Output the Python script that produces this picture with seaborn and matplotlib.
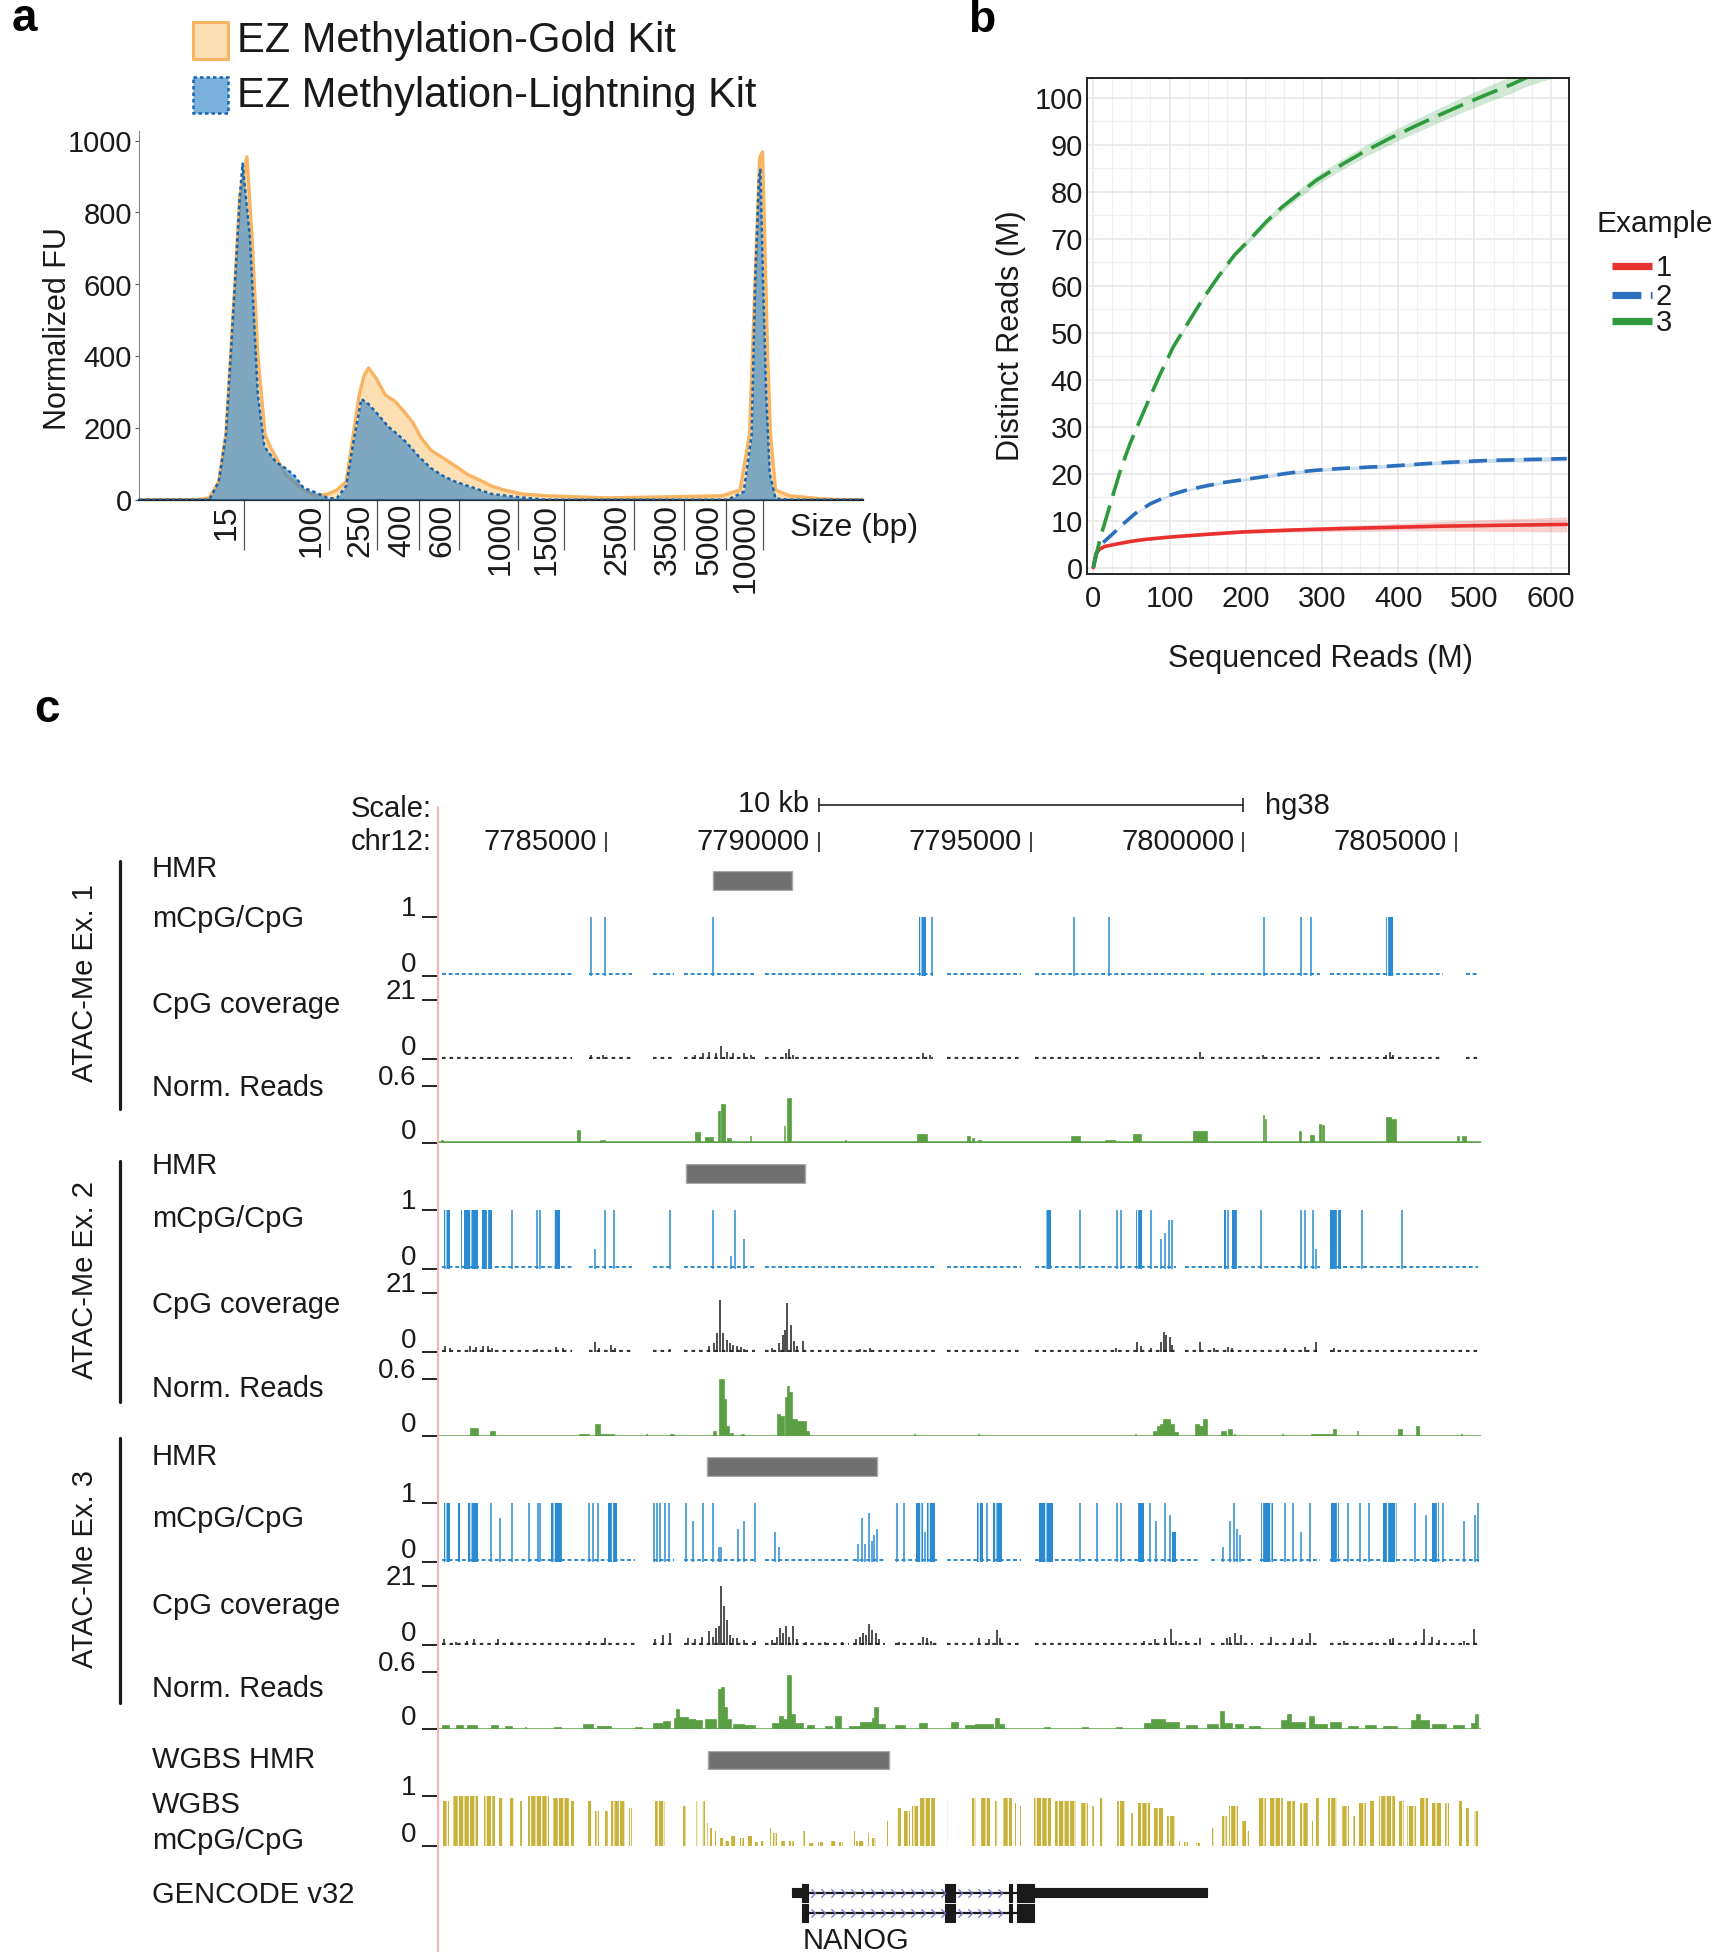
import numpy as np
import pandas as pd
import seaborn as sns
import matplotlib.pyplot as plt
from matplotlib.transforms import Affine2D, offset_copy
from matplotlib.lines import Line2D
from matplotlib.patches import Rectangle
from matplotlib.path import Path

W, H = 1713, 1952

# ---------------- panel a: electropherogram ----------------
# x is migration time (arbitrary units), ladder sizes mark positions on it
ladder_sizes = ['15', '100', '250', '400', '600', '1000', '1500', '2500', '3500', '5000', '10000']
ladder_pos = [14.5, 26.2, 32.9, 38.7, 44.2, 52.3, 58.7, 68.4, 75.3, 81.1, 86.1]

gold_x = [0, 8.0, 9.7, 11.0, 12.0, 12.65, 13.3, 13.9, 14.9, 15.6, 16.4, 17.4, 18.1, 20.2, 22.7,
          24.4, 26.1, 27.3, 28.6, 29.6, 30.4, 31.1, 31.7, 32.8, 34.0, 35.3, 36.5, 37.8, 39.0,
          40.3, 42.0, 43.7, 45.3, 47.0, 48.7, 50.4, 52.9, 56.2, 64.6, 73.0, 80.5, 83.0, 84.3,
          85.1, 85.7, 86.1, 86.4, 86.8, 87.2, 87.9, 89.8, 94.0, 97.3, 100]
gold_fu = [0, 0, 5, 50, 182, 402, 622, 842, 955, 732, 402, 182, 148, 71, 27,
           11, 16, 27, 50, 182, 292, 347, 367, 336, 292, 275, 248, 215, 171,
           138, 116, 94, 71, 55, 38, 27, 16, 11, 5, 8, 11, 27, 182,
           622, 952, 969, 732, 402, 182, 27, 11, 3, 0, 0]

light_x = [0, 9.7, 11.0, 12.0, 12.65, 13.3, 13.9, 14.3, 15.3, 16.4, 17.3, 18.9, 20.2, 21.5,
           22.7, 24.4, 26.1, 27.3, 28.6, 29.6, 30.7, 31.5, 32.8, 34.4, 35.7, 36.9, 38.6, 40.3,
           42.0, 43.7, 46.2, 48.7, 52.0, 56.2, 81.3, 83.5, 84.6, 85.1, 85.6, 85.8, 86.15,
           86.6, 87.1, 87.9, 90, 100]
light_fu = [0, 0, 50, 182, 402, 622, 842, 936, 732, 292, 148, 105, 88, 66,
            33, 20, 4, 4, 38, 160, 280, 270, 242, 204, 182, 160, 121, 88,
            66, 50, 33, 16, 8, 0, 0, 22, 182, 622, 897, 919, 622,
            292, 71, 3, 0, 0]

# ---------------- panel b: library complexity ----------------
ex1_seq = [0, 2, 4, 8, 15, 30, 50, 68, 100, 150, 196, 260, 324, 400, 452, 530, 621]
ex1_dist = [0, 1.8, 3.1, 3.9, 4.5, 5.0, 5.6, 6.0, 6.5, 7.1, 7.6, 8.0, 8.3, 8.6, 8.8, 9.0, 9.2]
ex1_err = [0, 0, 0, 0.05, 0.08, 0.1, 0.15, 0.2, 0.25, 0.3, 0.35, 0.45, 0.6, 0.8, 1.0, 1.3, 1.6]

ex2_seq = [0, 4.3, 12, 23.6, 40, 55.6, 75, 100, 120, 145, 170, 196, 230, 260, 290, 324, 388, 452, 516, 621]
ex2_dist = [0, 3.1, 5.2, 6.9, 9.4, 11.6, 13.6, 15.4, 16.4, 17.3, 18.1, 18.7, 19.5, 20.2, 20.7,
            21.1, 21.6, 22.3, 22.8, 23.2]
ex2_err = [0, 0, 0.05, 0.1, 0.15, 0.2, 0.2, 0.25, 0.25, 0.3, 0.3, 0.3, 0.3, 0.35, 0.35,
           0.35, 0.4, 0.4, 0.45, 0.5]

ex3_seq = [0, 5, 10, 17.2, 25, 36.3, 48, 61.9, 75, 87.5, 105, 125.8, 145, 164.2, 185, 209, 228,
           247.3, 270, 292.1, 324, 356, 388, 420, 452, 484, 516, 548, 567, 600, 621]
ex3_dist = [0, 3.5, 6.8, 10.7, 15, 21.1, 26.3, 31.6, 36.5, 41.1, 47, 52.5, 57.5, 62.0, 66.5, 70.5,
            73.8, 76.7, 79.6, 82.4, 85.6, 88.6, 91.3, 93.8, 96.2, 98.5, 100.7, 102.8, 104.2,
            106, 107.2]
ex3_err = [0, 0, 0, 0, 0, 0, 0.05, 0.1, 0.1, 0.15, 0.2, 0.25, 0.3, 0.4, 0.5, 0.6, 0.7,
           0.8, 0.9, 1.0, 1.1, 1.2, 1.3, 1.4, 1.5, 1.6, 1.7, 1.8, 1.8, 1.9, 2.0]

# ---------------- panel c: genome browser (positions in kb on chr12) ----------------
XL = (7781.04, 7805.6)
coord_ticks = [7785, 7790, 7795, 7800, 7805]

hmr = [(7787.51, 7789.37), (7786.88, 7789.68), (7787.37, 7791.38)]
wgbs_hmr = (7787.40, 7791.66)

# spans where CpGs are covered (drawn as baseline dashes)
ex1_spans = [(7781.13, 7784.19), (7784.60, 7785.60), (7786.09, 7786.59), (7786.83, 7788.49),
             (7788.74, 7792.70), (7793.03, 7794.77), (7795.10, 7799.07), (7799.23, 7801.79),
             (7802.04, 7804.69), (7805.23, 7805.55)]
ex2_spans = [(7781.13, 7784.19), (7784.60, 7785.60), (7786.09, 7786.50), (7786.83, 7788.49),
             (7788.74, 7792.79), (7793.03, 7794.77), (7795.10, 7798.40), (7798.62, 7801.79),
             (7802.04, 7805.51)]
ex3_spans = [(7781.13, 7785.68), (7786.09, 7786.59), (7786.83, 7788.49), (7788.74, 7790.72),
             (7790.80, 7791.55), (7791.79, 7792.79), (7793.03, 7794.77), (7795.10, 7798.98),
             (7799.23, 7799.40), (7799.48, 7800.22), (7800.39, 7801.79), (7802.04, 7805.55)]

# methylation: (pos, value) single CpG or (start, end, value) dense run
ex1_meth = [(7784.65, 1), (7784.97, 1), (7787.50, 1), (7792.36, 7792.52, 1), (7792.67, 1),
            (7796.00, 1), (7796.83, 1), (7800.49, 1), (7801.36, 1), (7801.60, 1),
            (7803.36, 7803.52, 1)]
ex2_meth = [(7781.18, 7781.33, 1), (7781.58, 7781.62, 1), (7781.66, 7781.98, 1),
            (7782.07, 7782.32, 1), (7782.79, 1), (7783.36, 1), (7783.45, 1),
            (7783.78, 7783.90, 1), (7784.74, 0.33), (7784.97, 1), (7785.18, 1), (7786.50, 1),
            (7787.50, 1), (7787.94, 0.22), (7788.04, 1), (7788.24, 0.5), (7795.36, 7795.48, 1),
            (7796.14, 1), (7797.03, 1), (7797.12, 1), (7797.46, 7797.61, 1), (7797.83, 1),
            (7798.07, 0.5), (7798.16, 0.6), (7798.24, 0.83), (7798.32, 0.83),
            (7799.53, 7799.60, 1), (7799.64, 1), (7799.74, 7799.86, 1), (7800.42, 1),
            (7801.35, 1), (7801.46, 1), (7801.63, 1), (7801.71, 0.33), (7802.04, 7802.29, 1),
            (7802.79, 1), (7803.74, 1)]
ex3_meth = [(7781.18, 7781.33, 1), (7781.50, 7781.56, 1), (7781.74, 7781.99, 1), (7782.29, 1),
            (7782.49, 0.75), (7782.79, 1), (7783.17, 1), (7783.40, 1), (7783.45, 1),
            (7783.69, 7783.98, 1), (7784.60, 1), (7784.69, 1), (7784.80, 1),
            (7785.03, 7785.26, 1), (7786.12, 1), (7786.19, 1), (7786.26, 1), (7786.39, 1),
            (7786.47, 1), (7786.88, 1), (7787.05, 0.7), (7787.28, 1), (7787.50, 1),
            (7787.66, 0.25), (7787.71, 0.25), (7788.11, 0.55), (7788.24, 0.7), (7788.49, 1),
            (7788.98, 0.5), (7789.07, 0.25), (7790.92, 0.3), (7791.02, 0.75), (7791.08, 0.3),
            (7791.18, 0.83), (7791.25, 0.35), (7791.30, 0.45), (7791.38, 0.55), (7791.84, 1),
            (7792.01, 1), (7792.29, 7792.45, 1), (7792.50, 0.5), (7792.55, 7792.74, 1),
            (7793.73, 7793.86, 1), (7793.96, 1), (7794.11, 7794.32, 1), (7795.18, 7795.51, 1),
            (7796.14, 1), (7796.54, 1), (7797.03, 1), (7797.12, 1), (7797.50, 7797.66, 1),
            (7797.79, 1), (7797.93, 0.7), (7798.16, 1), (7798.27, 0.8), (7798.32, 7798.40, 0.5),
            (7799.51, 0.25), (7799.69, 0.7), (7799.78, 1), (7799.84, 0.55), (7799.91, 0.45),
            (7800.42, 7800.70, 1), (7800.97, 1), (7801.17, 1), (7801.36, 0.5), (7801.56, 1),
            (7802.07, 7802.26, 1), (7802.45, 1), (7802.74, 1), (7802.95, 1),
            (7803.28, 7803.61, 1), (7804.04, 1), (7804.29, 0.8), (7804.44, 7804.60, 1),
            (7804.69, 1), (7805.18, 0.7), (7805.46, 0.8), (7805.51, 1)]

# CpG coverage (pos, depth)
ex1_cov = [(7784.64, 1.5), (7784.93, 1.2), (7787.08, 1.5), (7787.28, 2.0), (7787.41, 2.5),
           (7787.58, 2.0), (7787.71, 4.5), (7787.83, 2.5), (7787.99, 2.0), (7788.24, 2.0),
           (7788.40, 1.5), (7789.23, 2.0), (7789.31, 3.5), (7789.40, 1.5), (7792.45, 2.0),
           (7792.62, 1.5), (7798.98, 2.5), (7800.47, 1.5), (7803.36, 1.5), (7803.45, 2.5),
           (7803.53, 1.5)]
ex2_cov = [(7781.21, 2.0), (7781.33, 1.5), (7781.79, 2.0), (7781.93, 1.8), (7782.09, 2.0),
           (7782.21, 2.2), (7782.32, 1.5), (7783.38, 1.2), (7783.81, 1.8), (7783.98, 1.5),
           (7784.74, 3.6), (7784.83, 1.5), (7785.10, 2.4), (7785.20, 1.5), (7786.50, 1.2),
           (7787.41, 2.0), (7787.53, 3.0), (7787.61, 6.8), (7787.68, 18.6), (7787.74, 6.6),
           (7787.83, 4.2), (7787.91, 3.0), (7787.99, 2.4), (7788.07, 2.0), (7788.16, 1.8),
           (7788.24, 1.2), (7788.90, 1.5), (7789.07, 3.0), (7789.15, 6.0), (7789.21, 7.8),
           (7789.26, 17.4), (7789.35, 9.6), (7789.41, 4.0), (7789.50, 2.0), (7789.64, 4.0),
           (7790.97, 1.2), (7791.21, 1.5), (7797.00, 1.5), (7797.50, 3.6), (7797.58, 2.0),
           (7797.83, 1.5), (7798.07, 3.5), (7798.12, 7.2), (7798.18, 6.0), (7798.26, 5.4),
           (7798.32, 2.4), (7798.98, 3.6), (7799.31, 1.5), (7799.64, 1.8), (7799.74, 1.5),
           (7800.97, 1.5), (7801.46, 1.8), (7801.71, 3.6), (7802.12, 1.5)]
ex3_cov = [(7781.18, 2.0), (7781.46, 1.2), (7781.71, 1.5), (7781.88, 2.0), (7782.45, 2.0),
           (7782.79, 1.0), (7784.60, 1.5), (7784.97, 2.5), (7786.14, 2.0), (7786.34, 3.6),
           (7786.50, 4.2), (7786.92, 2.5), (7787.08, 2.0), (7787.25, 3.0), (7787.41, 4.8),
           (7787.51, 3.0), (7787.58, 6.0), (7787.66, 6.6), (7787.71, 21.0), (7787.78, 13.8),
           (7787.83, 9.0), (7787.91, 3.6), (7787.99, 2.4), (7788.07, 2.4), (7788.24, 1.8),
           (7788.49, 1.5), (7788.90, 1.8), (7789.02, 3.0), (7789.09, 6.0), (7789.15, 4.2),
           (7789.23, 6.6), (7789.31, 3.0), (7789.40, 6.6), (7789.50, 2.0), (7789.69, 1.2),
           (7790.14, 1.0), (7790.55, 1.0), (7790.88, 2.0), (7790.97, 3.0), (7791.05, 4.4),
           (7791.12, 3.5), (7791.18, 7.6), (7791.25, 5.2), (7791.35, 4.4), (7791.43, 2.0),
           (7791.88, 1.0), (7792.45, 3.0), (7792.54, 2.4), (7792.65, 1.5), (7793.78, 2.5),
           (7794.02, 2.0), (7794.19, 5.2), (7794.27, 2.5), (7797.66, 1.5), (7797.91, 2.0),
           (7798.16, 2.5), (7798.29, 5.6), (7798.40, 1.5), (7798.65, 1.5), (7798.98, 2.5),
           (7799.61, 2.5), (7799.69, 3.0), (7799.81, 4.2), (7799.94, 3.5), (7800.64, 3.0),
           (7801.17, 2.5), (7801.38, 2.0), (7801.57, 4.2), (7802.37, 1.5), (7803.03, 1.2),
           (7803.45, 2.0), (7803.53, 2.5), (7804.07, 1.5), (7804.26, 5.6), (7804.43, 3.0),
           (7804.60, 1.8), (7805.18, 1.5), (7805.43, 5.6)]

# ATAC normalised reads (start, end, value) or (pos, value)
ex1_reads = [(7781.10, 7781.16, 0.03), (7784.31, 7784.37, 0.14), (7784.85, 7784.97, 0.03),
             (7787.08, 7787.21, 0.11), (7787.33, 7787.50, 0.06), (7787.63, 7787.68, 0.34),
             (7787.69, 7787.79, 0.41), (7787.83, 7787.94, 0.05), (7788.40, 0.07), (7789.20, 0.18),
             (7789.25, 7789.35, 0.47), (7790.64, 0.03), (7792.32, 7792.54, 0.095),
             (7793.50, 7793.56, 0.07), (7793.61, 7793.66, 0.05), (7793.74, 7793.83, 0.03),
             (7795.93, 7796.14, 0.07), (7796.75, 7796.97, 0.03), (7797.41, 7797.58, 0.095),
             (7798.82, 7799.15, 0.12), (7800.45, 7800.49, 0.29), (7800.50, 7800.53, 0.25),
             (7801.30, 7801.36, 0.12), (7801.56, 7801.66, 0.08), (7801.78, 7801.83, 0.2),
             (7801.85, 7801.90, 0.19), (7803.36, 7803.48, 0.27), (7803.48, 7803.58, 0.25),
             (7805.02, 7805.07, 0.07), (7805.15, 7805.23, 0.07)]
ex2_reads = [(7781.79, 7781.99, 0.08), (7782.26, 7782.37, 0.05), (7784.36, 7784.60, 0.02),
             (7784.74, 7784.85, 0.12), (7784.85, 7785.18, 0.025), (7785.96, 0.025),
             (7786.50, 7786.59, 0.025), (7787.50, 7787.58, 0.05), (7787.66, 7787.76, 0.6),
             (7787.76, 7787.81, 0.39), (7787.81, 7787.88, 0.1), (7787.91, 7787.99, 0.03),
             (7788.16, 7788.24, 0.025), (7789.03, 7789.10, 0.23), (7789.10, 7789.18, 0.21),
             (7789.20, 7789.25, 0.41), (7789.25, 7789.31, 0.52), (7789.31, 7789.38, 0.46),
             (7789.38, 7789.48, 0.18), (7789.48, 7789.69, 0.16), (7789.69, 7789.76, 0.05),
             (7792.26, 0.025), (7793.78, 0.025), (7797.46, 0.025), (7797.86, 7797.96, 0.05),
             (7797.96, 7798.04, 0.1), (7798.04, 7798.11, 0.12), (7798.11, 7798.27, 0.18),
             (7798.27, 7798.36, 0.13), (7798.36, 7798.45, 0.04), (7798.87, 7798.96, 0.12),
             (7798.96, 7799.05, 0.1), (7799.05, 7799.15, 0.18), (7799.48, 7799.58, 0.05),
             (7799.64, 7799.74, 0.07), (7799.81, 0.025), (7800.93, 0.025),
             (7801.58, 7802.10, 0.025), (7802.10, 7802.18, 0.07), (7802.70, 0.05),
             (7803.64, 7803.74, 0.07), (7804.07, 7804.13, 0.1), (7805.15, 0.025)]
ex3_reads = [(7781.13, 7781.30, 0.04), (7781.46, 7781.63, 0.04), (7781.71, 7781.96, 0.04),
             (7782.29, 7782.45, 0.04), (7782.62, 7782.79, 0.03), (7783.12, 0.02),
             (7783.78, 7783.94, 0.02), (7784.44, 7784.69, 0.05), (7784.77, 7785.10, 0.03),
             (7785.68, 7785.84, 0.02), (7786.09, 7786.34, 0.06), (7786.34, 7786.50, 0.08),
             (7786.59, 7786.65, 0.12), (7786.65, 7786.72, 0.21), (7786.72, 7786.92, 0.13),
             (7786.92, 7787.08, 0.1), (7787.08, 7787.25, 0.09), (7787.33, 7787.58, 0.1),
             (7787.63, 7787.69, 0.42), (7787.69, 7787.78, 0.44), (7787.78, 7787.84, 0.23),
             (7787.84, 7787.94, 0.1), (7787.99, 7788.24, 0.05), (7788.24, 7788.49, 0.04),
             (7788.90, 7789.07, 0.06), (7789.07, 7789.15, 0.14), (7789.15, 7789.26, 0.1),
             (7789.26, 7789.35, 0.57), (7789.35, 7789.45, 0.16), (7789.45, 7789.64, 0.06),
             (7789.73, 7789.89, 0.04), (7790.14, 7790.31, 0.03), (7790.39, 7790.52, 0.14),
             (7790.72, 7790.97, 0.03), (7790.97, 7791.25, 0.07), (7791.25, 7791.31, 0.12),
             (7791.31, 7791.40, 0.23), (7791.40, 7791.55, 0.05), (7791.79, 7792.04, 0.04),
             (7792.37, 7792.54, 0.06), (7793.12, 7793.28, 0.07), (7793.45, 7793.69, 0.04),
             (7793.69, 7794.11, 0.05), (7794.16, 7794.25, 0.12), (7794.25, 7794.36, 0.05),
             (7795.30, 7795.45, 0.02), (7796.20, 7796.35, 0.02), (7797.00, 7797.15, 0.02),
             (7797.66, 7797.83, 0.06), (7797.83, 7798.16, 0.11), (7798.16, 7798.49, 0.07),
             (7798.65, 7798.90, 0.04), (7799.15, 7799.40, 0.05), (7799.45, 7799.54, 0.19),
             (7799.54, 7799.74, 0.06), (7799.81, 7799.98, 0.05), (7800.14, 7800.39, 0.03),
             (7800.88, 7801.02, 0.09), (7801.02, 7801.13, 0.16), (7801.13, 7801.45, 0.07),
             (7801.55, 7801.66, 0.14), (7801.66, 7801.96, 0.05), (7802.04, 7802.29, 0.07),
             (7802.45, 7802.70, 0.03), (7802.87, 7803.12, 0.04), (7803.28, 7803.61, 0.03),
             (7803.94, 7804.06, 0.09), (7804.06, 7804.15, 0.16), (7804.15, 7804.36, 0.09),
             (7804.44, 7804.77, 0.05), (7804.93, 7805.18, 0.04), (7805.35, 7805.46, 0.06),
             (7805.46, 7805.52, 0.16)]

# WGBS methylation (start, end, value)
wgbs_meth = [(7781.16, 7781.30, 0.9), (7781.40, 7781.98, 1.0), (7782.12, 7782.37, 1.0),
             (7782.47, 7782.57, 0.95), (7782.73, 7782.82, 0.95), (7782.96, 7783.02, 0.9),
             (7783.16, 7783.64, 1.0), (7783.74, 7784.13, 0.95), (7784.18, 7784.23, 0.9),
             (7784.58, 7784.66, 0.9), (7784.74, 7784.82, 0.7), (7784.97, 7785.05, 0.7),
             (7785.11, 7785.44, 0.9), (7785.54, 7785.60, 0.75), (7786.14, 7786.38, 0.9),
             (7786.81, 7786.87, 0.8), (7787.12, 7787.16, 0.9), (7787.26, 7787.32, 0.9),
             (7787.36, 7787.40, 0.45), (7787.45, 7787.48, 0.35), (7787.55, 7787.58, 0.3),
             (7787.65, 7787.75, 0.15), (7787.79, 7787.90, 0.1), (7787.94, 7788.04, 0.2),
             (7788.14, 7788.23, 0.15), (7788.33, 7788.43, 0.2), (7788.49, 7788.57, 0.08),
             (7788.63, 7788.72, 0.1), (7788.82, 7788.88, 0.35), (7788.92, 7789.01, 0.25),
             (7789.11, 7789.21, 0.1), (7789.31, 7789.41, 0.1), (7789.64, 7789.67, 0.3),
             (7789.74, 7789.90, 0.05), (7789.99, 7790.09, 0.08), (7790.29, 7790.38, 0.1),
             (7790.48, 7790.58, 0.07), (7790.83, 7790.86, 0.3), (7790.87, 7791.07, 0.1),
             (7791.17, 7791.20, 0.25), (7791.26, 7791.36, 0.15), (7791.61, 7791.64, 0.5),
             (7791.85, 7791.94, 0.75), (7792.00, 7792.14, 0.7), (7792.20, 7792.33, 0.8),
             (7792.39, 7792.73, 0.95), (7793.02, 7793.05, 0.9), (7793.27, 7793.30, 0.45),
             (7793.61, 7793.70, 0.95), (7793.80, 7794.03, 0.95), (7794.15, 7794.23, 0.9),
             (7794.35, 7794.54, 0.95), (7794.62, 7794.65, 0.85), (7794.74, 7794.77, 0.8),
             (7795.07, 7795.46, 0.95), (7795.56, 7796.05, 0.9), (7796.14, 7796.34, 0.85),
             (7796.44, 7796.47, 0.8), (7796.63, 7796.69, 0.95), (7797.02, 7797.22, 0.9),
             (7797.32, 7797.41, 0.65), (7797.51, 7797.80, 0.85), (7797.90, 7798.10, 0.75),
             (7798.20, 7798.39, 0.6), (7798.49, 7798.52, 0.1), (7798.59, 7798.69, 0.08),
             (7798.88, 7798.98, 0.05), (7799.27, 7799.30, 0.35), (7799.50, 7799.62, 0.6),
             (7799.66, 7799.86, 0.8), (7799.95, 7800.05, 0.5), (7800.09, 7800.12, 0.3),
             (7800.34, 7800.54, 0.95), (7800.60, 7800.93, 0.95), (7801.03, 7801.22, 0.9),
             (7801.32, 7801.52, 0.85), (7801.61, 7801.64, 0.5), (7801.71, 7801.81, 0.95),
             (7802.00, 7802.20, 0.95), (7802.30, 7802.49, 0.8), (7802.59, 7802.62, 0.6),
             (7802.69, 7802.88, 0.85), (7802.98, 7803.08, 0.9), (7803.18, 7803.57, 1.0),
             (7803.67, 7803.77, 0.9), (7803.86, 7804.06, 0.8), (7804.16, 7804.35, 0.95),
             (7804.45, 7804.65, 0.85), (7804.74, 7804.84, 0.85), (7805.04, 7805.14, 0.9),
             (7805.23, 7805.33, 0.75), (7805.43, 7805.53, 0.7)]

# NANOG gene model
nanog_exons = [(7789.61, 7789.74), (7792.98, 7793.21), (7794.48, 7794.54), (7794.68, 7795.07)]
nanog_utr = [(7789.37, 7789.61), (7795.07, 7799.13)]

BLUE, BLACK, GREEN, GOLD = '#2a8bd2', '#1e1e1e', '#5a9f44', '#c8b237'

sns.set_theme(style='white')
plt.rcParams['font.family'] = ['Liberation Sans', 'DejaVu Sans']
plt.rcParams['hatch.color'] = 'white'
plt.rcParams['hatch.linewidth'] = 0.9

fig = plt.figure(figsize=(W / 100 + 0.004, H / 100 + 0.004), dpi=100)
fig.patch.set_facecolor('white')
pxT = Affine2D().scale(1 / W, -1 / H).translate(0, 1) + fig.transFigure


def px_rect(l, t, r, b):
    return [l / W, 1 - b / H, (r - l) / W, (b - t) / H]


def ftext(x, y, s, **kw):
    kw.setdefault('fontsize', 21)
    kw.setdefault('va', 'center')
    kw.setdefault('color', '#1a1a1a')
    fig.text(x, y, s, transform=pxT, **kw)


def fline(xs, ys, **kw):
    fig.add_artist(Line2D(xs, ys, transform=pxT, **kw))


# ======================= panel a =======================
axa = fig.add_axes(px_rect(139, 131, 863, 500))
axa.fill_between(gold_x, gold_fu, color='#fddfb4', lw=0, zorder=1)
axa.plot(gold_x, gold_fu, color='#f8b460', lw=2.4, zorder=2)
axa.fill_between(light_x, light_fu, color='#3486c9', alpha=0.62, lw=0, zorder=3)
axa.plot(light_x, light_fu, color='#1565b0', lw=1.8, ls=(0, (1.4, 1.2)), zorder=4)
axa.set_xlim(0, 100)
axa.set_ylim(0, 1028)
axa.set_yticks([0, 200, 400, 600, 800, 1000])
axa.tick_params(axis='y', left=True, length=3, width=0.8, pad=2, labelsize=21,
                color='#555', labelcolor='#1a1a1a')
axa.set_xticks(ladder_pos)
axa.set_xticklabels([])
axa.tick_params(axis='x', bottom=True, length=36, width=0.9, color='#555', direction='out')
for s in ['top', 'right']:
    axa.spines[s].set_visible(False)
axa.spines['left'].set_color('#888')
axa.spines['left'].set_linewidth(0.8)
axa.spines['bottom'].set_color('#222')
axa.spines['bottom'].set_linewidth(1.6)
for lbl, pos in zip(ladder_sizes, ladder_pos):
    axa.annotate(lbl, xy=(pos, 0), xycoords=('data', 'axes fraction'), xytext=(-17, -4),
                 textcoords='offset pixels', rotation=90, ha='center', va='top',
                 fontsize=23, color='#1a1a1a')
ftext(790, 528, 'Size (bp)', fontsize=23)
ftext(58, 328, 'Normalized FU', fontsize=22, rotation=90, ha='center')
fig.add_artist(Rectangle((193, 22), 35, 37, transform=pxT, facecolor='#fddfb4',
                         edgecolor='#f8b460', lw=2.2))
fig.add_artist(Rectangle((193, 77), 35, 36, transform=pxT, facecolor='#7bb0dc',
                         edgecolor='#1565b0', lw=1.8, ls=(0, (1.4, 1.2))))
ftext(237, 41, 'EZ Methylation-Gold Kit', fontsize=30)
ftext(237, 96, 'EZ Methylation-Lightning Kit', fontsize=30)
ftext(12, 19, 'a', fontsize=33, fontweight='bold', color='black')

# ======================= panel b =======================
rows = []
for name, xs, ys in [('1', ex1_seq, ex1_dist), ('2', ex2_seq, ex2_dist), ('3', ex3_seq, ex3_dist)]:
    rows += [{'Example': name, 'Sequenced': x, 'Distinct': y} for x, y in zip(xs, ys)]
dfb = pd.DataFrame(rows)
cols_b = ['#e8302e', '#2b6fbd', '#2e9a3e']

axb = fig.add_axes(px_rect(1087, 78, 1569, 574))
axb.set_facecolor('white')
for xs, ys, err, col in [(ex1_seq, ex1_dist, ex1_err, cols_b[0]),
                         (ex2_seq, ex2_dist, ex2_err, cols_b[1]),
                         (ex3_seq, ex3_dist, ex3_err, cols_b[2])]:
    ys, err = np.array(ys), np.array(err)
    axb.fill_between(xs, ys - err, ys + err, color=col, alpha=0.22, lw=0)
sns.lineplot(data=dfb, x='Sequenced', y='Distinct', hue='Example', style='Example',
             palette=cols_b, dashes=['', (5, 2.6), (7.5, 2.8)], linewidth=2.6,
             estimator=None, legend=False, ax=axb)
axb.set_xlim(-7.9, 624.5)
axb.set_ylim(-1.3, 104.3)
axb.set_xticks(range(0, 601, 100))
axb.set_yticks(range(0, 101, 10))
axb.set_xticks(range(25, 625, 25), minor=True)
axb.set_yticks(range(5, 105, 5), minor=True)
axb.grid(which='major', color='#e6e6e6', lw=1.1)
axb.grid(which='minor', color='#f0f0f0', lw=0.9)
axb.set_axisbelow(True)
axb.tick_params(which='both', length=0, labelsize=21, labelcolor='#1a1a1a')
axb.tick_params(axis='x', pad=8)
axb.tick_params(axis='y', pad=3)
axb.set_xlabel('')
axb.set_ylabel('')
for s in axb.spines.values():
    s.set_visible(True)
    s.set_color('#222')
    s.set_linewidth(1.4)
ftext(1320, 659, 'Sequenced Reads (M)', fontsize=22, ha='center')
ftext(1011, 336, 'Distinct Reads (M)', fontsize=22, ha='center', rotation=90)
ftext(1596, 224, 'Example', fontsize=21.5)
for i, (yy, col, ds) in enumerate([(266, cols_b[0], '-'), (295, cols_b[1], (0, (4, 1.3))),
                                   (321, cols_b[2], '-')]):
    fline([1612, 1652], [yy, yy], color=col, lw=5.2, ls=ds, solid_capstyle='butt',
          dash_capstyle='butt')
    ftext(1655, yy + 2, str(i + 1), fontsize=21)
ftext(968, 20, 'b', fontsize=32, fontweight='bold', color='black')

# ======================= panel c =======================
ftext(34, 710, 'c', fontsize=33, fontweight='bold', color='black')
TL, TR = 438, 1481


def track_axes(top, bottom, ymax=None, labels=None):
    ax = fig.add_axes(px_rect(TL, top, TR, bottom))
    ax.set_xlim(XL)
    ax.set_facecolor('none')
    for s in ax.spines.values():
        s.set_visible(False)
    ax.set_xticks([])
    if ymax is None:
        ax.set_ylim(0, 1)
        ax.set_yticks([])
    else:
        ax.set_ylim(0, ymax)
        ax.set_yticks([0, ymax])
        ax.set_yticklabels(labels)
        ax.tick_params(axis='y', left=True, length=11.5, width=1.3, pad=4, labelsize=20,
                       color='#111', labelcolor='#1a1a1a', direction='out')
        for t, shift in zip(ax.get_yticklabels(), [4, 1]):
            t.set_verticalalignment('baseline')
            t.set_transform(offset_copy(t.get_transform(), fig=fig, y=shift, units='dots'))
    return ax


def draw_bars(ax, entries, color, hatch=None, lw=1.1):
    singles = [e for e in entries if len(e) == 2]
    blocks = [e for e in entries if len(e) == 3]
    if singles:
        ax.vlines([p for p, v in singles], 0, [v for p, v in singles], color=color, lw=lw)
    if blocks:
        ax.bar([s for s, e, v in blocks], [v for s, e, v in blocks],
               width=[e - s for s, e, v in blocks], align='edge', color=color,
               lw=0 if hatch else 0.5, hatch=hatch,
               edgecolor='white' if hatch else color)


def draw_hmr(ax, start, end):
    ax.broken_barh([(start, end - start)], (0, 1), facecolors='#707070',
                   edgecolors='#a8a8a8', lw=1)


# ruler
rax = fig.add_axes(px_rect(TL, 790, TR, 860))
rax.set_xlim(XL)
rax.set_ylim(860, 790)
rax.axis('off')
rax.hlines(805, 7790, 7800, color='#222', lw=1.2)
rax.vlines([7790, 7800], 798, 812, color='#222', lw=1.2)
rax.annotate('10 kb', (7790, 804), xytext=(-10, 0), textcoords='offset pixels',
             ha='right', va='center', fontsize=21, color='#1a1a1a')
rax.annotate('hg38', (7800, 806), xytext=(22, 0), textcoords='offset pixels',
             ha='left', va='center', fontsize=21, color='#1a1a1a')
rax.vlines(coord_ticks, 832, 852, color='#222', lw=1.2)
for kb in coord_ticks:
    rax.annotate(f'{int(round(kb * 1000))}', (kb, 842), xytext=(-9, 0),
                 textcoords='offset pixels', ha='right', va='center', fontsize=21,
                 color='#1a1a1a')
ftext(432, 809, 'Scale:', ha='right')
ftext(432, 842, 'chr12:', ha='right')

# ATAC-Me examples
block_dy = [0, 293, 586]
lab_hmr = [869, 1166, 1457]
lab_meth = [919, 1219, 1519]
lab_cov = [1005, 1305, 1606]
lab_reads = [1088, 1389, 1689]
atac_mid = [983, 1280, 1569]
atac_bar = [(861, 1109), (1161, 1402), (1438, 1703)]
spans_all = [ex1_spans, ex2_spans, ex3_spans]
meth_all = [ex1_meth, ex2_meth, ex3_meth]
cov_all = [ex1_cov, ex2_cov, ex3_cov]
reads_all = [ex1_reads, ex2_reads, ex3_reads]

for k in range(3):
    dy = block_dy[k]
    hax = track_axes(871 + dy, 890 + dy)
    draw_hmr(hax, *hmr[k])

    max_ = track_axes(917 + dy, 976 + dy, 1, ['0', '1'])
    max_.hlines([0.03] * len(spans_all[k]), [s for s, e in spans_all[k]],
                [e for s, e in spans_all[k]], colors=BLUE, lw=1.4, linestyles=(0, (2, 1.4)))
    draw_bars(max_, meth_all[k], BLUE, hatch='||')

    cax = track_axes(1000 + dy, 1059 + dy, 21, ['0', '21'])
    cax.hlines([0.45] * len(spans_all[k]), [s for s, e in spans_all[k]],
               [e for s, e in spans_all[k]], colors='#333333', lw=1.6,
               linestyles=(0, (1.6, 1.8)))
    draw_bars(cax, cov_all[k], BLACK)

    gax_ = track_axes(1086 + dy, 1143 + dy, 0.6, ['0', '0.6'])
    gax_.axhline(0.004, color=GREEN, lw=1.8)
    draw_bars(gax_, reads_all[k], GREEN)

    ftext(152, lab_hmr[k], 'HMR')
    ftext(152, lab_meth[k], 'mCpG/CpG')
    ftext(152, lab_cov[k], 'CpG coverage')
    ftext(152, lab_reads[k], 'Norm. Reads')
    ftext(85, atac_mid[k], f'ATAC-Me Ex. {k + 1}', rotation=90, ha='center')
    fline([120, 120], list(atac_bar[k]), color='#1a1a1a', lw=2.3)

# WGBS
whax = track_axes(1751, 1769)
draw_hmr(whax, *wgbs_hmr)
wax = track_axes(1796, 1846, 1, ['0', '1'])
draw_bars(wax, wgbs_meth, GOLD, hatch='|||')
ftext(152, 1760, 'WGBS HMR')
ftext(152, 1805, 'WGBS')
ftext(152, 1841, 'mCpG/CpG')
ftext(152, 1895, 'GENCODE v32')

# gene model
gax = fig.add_axes(px_rect(TL, 1875, TR, 1930))
gax.set_xlim(XL)
gax.set_ylim(1930, 1875)
gax.axis('off')
chevron = Path([(-0.5, 1), (0.5, 0), (-0.5, -1)], [Path.MOVETO, Path.LINETO, Path.LINETO])
for row_y, with_utr in [(1893, True), (1913, False)]:
    start = nanog_utr[0][0] if with_utr else nanog_exons[0][0]
    gax.hlines(row_y, start, nanog_exons[-1][1], color='#1a1a1a', lw=1.6)
    for (s0, e0), (s1, e1) in zip(nanog_exons[:2], nanog_exons[1:3]):
        xs = np.arange(e0 + 0.12, s1 - 0.05, 0.235)
        gax.plot(xs, [row_y] * len(xs), ls='none', marker=chevron, ms=6,
                 mfc='none', mec='#7c7cd2', mew=1.0)
    gax.broken_barh([(s, e - s) for s, e in nanog_exons], (row_y - 9, 18),
                    facecolors='#1a1a1a', edgecolors='#1a1a1a', lw=0.8)
    if with_utr:
        gax.broken_barh([(s, e - s) for s, e in nanog_utr], (row_y - 4.5, 9),
                        facecolors='#1a1a1a', edgecolors='#1a1a1a', lw=0.8)
gax.text(7789.62, 1941, 'NANOG', ha='left', va='center', fontsize=21, color='#1a1a1a')

# pink browser guide line
fline([438, 438], [807, 1952], color='#f5b3b8', lw=1.5, zorder=5)

fig.savefig('out.png', dpi=100, facecolor='white')
